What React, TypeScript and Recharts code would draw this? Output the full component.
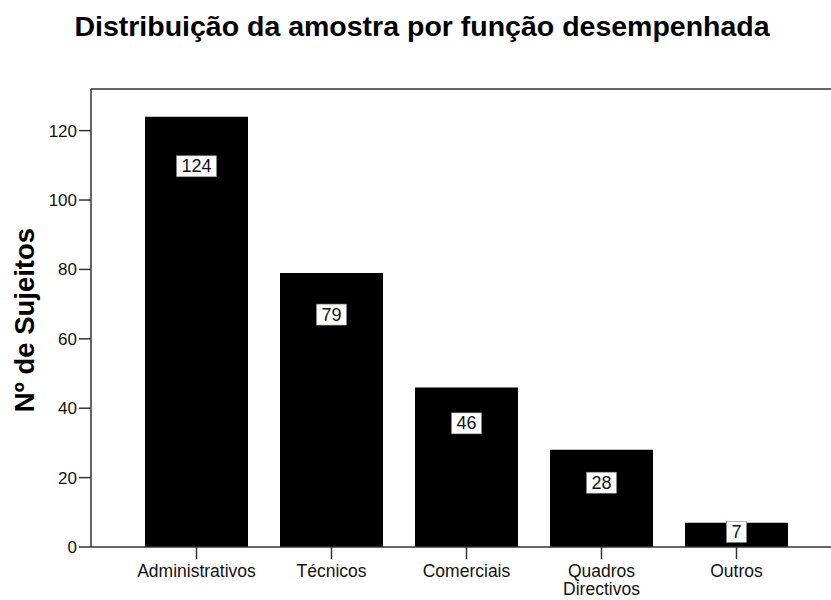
import { Bar, BarChart, Label, LabelList, ReferenceLine, XAxis, YAxis } from "recharts";

const categories = ["Administrativos", "Técnicos", "Comerciais", "Quadros Directivos", "Outros"];
const counts = [124, 79, 46, 28, 7];
const yTicks = [0, 20, 40, 60, 80, 100, 120];
const yMax = 132;

const data = categories.map((category, i) => ({ category, count: counts[i] }));

const FONT = "'Liberation Sans', Arial, sans-serif";
const AXIS = "#333";

function CategoryTick(props: any) {
  const { x, y, payload } = props;
  const value = String(payload.value);
  const words = value.split(" ");
  // long two-word names go on two lines, like SPSS does
  const lines = words.length > 1 && value.length > 12 ? words : [value];
  return (
    <g>
      {lines.map((line, i) => (
        <text key={line} x={x} y={y + 13 + i * 18} textAnchor="middle" fontSize={17.5} fill="#111" fontFamily={FONT}>
          {line}
        </text>
      ))}
    </g>
  );
}

function ValueBox(props: any) {
  const x = Number(props.x);
  const y = Number(props.y);
  const width = Number(props.width);
  const height = Number(props.height);
  const text = String(props.value);
  const cx = x + width / 2;
  // SPSS puts the count just under the top of the bar
  const cy = y + Math.min(28 + 0.05 * height, height / 2 - 3);
  const w = text.length * 10 + 10;
  const h = 21;
  return (
    <g>
      <rect x={cx - w / 2} y={cy - h / 2} width={w} height={h} fill="#fff" stroke="#888" strokeWidth={0.6} />
      <text x={cx} y={cy} textAnchor="middle" dominantBaseline="central" fontSize={18} fill="#111" fontFamily={FONT}>
        {text}
      </text>
    </g>
  );
}

function YTitle(props: any) {
  const vb = props.viewBox || {};
  const cy = vb.y + vb.height / 2 + 2;
  return (
    <text
      x={24}
      y={cy}
      transform={`rotate(-90, 24, ${cy})`}
      textAnchor="middle"
      dominantBaseline="central"
      fontSize={27.5}
      fontWeight="bold"
      fill="#000"
      fontFamily={FONT}
    >
      Nº de Sujeitos
    </text>
  );
}

export default function App() {
  return (
    <div style={{ position: "absolute", top: 0, left: 0, width: 831, height: 600, background: "#fff", fontFamily: FONT }}>
      <div
        style={{
          position: "absolute",
          top: 12,
          left: 0,
          width: 844,
          textAlign: "center",
          fontSize: 28.5,
          lineHeight: "28px",
          fontWeight: "bold",
          color: "#000",
        }}
      >
        Distribuição da amostra por função desempenhada
      </div>
      <BarChart width={831} height={600} data={data} margin={{ top: 89, right: 0, bottom: 0, left: 0 }}>
        <XAxis
          dataKey="category"
          height={53}
          padding={{ left: 38, right: 27 }}
          tick={<CategoryTick />}
          tickSize={12}
          tickMargin={5}
          interval={0}
          stroke={AXIS}
          strokeWidth={1.5}
        />
        <YAxis
          width={91}
          domain={[0, yMax]}
          ticks={yTicks}
          tickSize={12}
          tickMargin={2}
          tick={{ fontSize: 17, fill: "#111", fontFamily: FONT }}
          stroke={AXIS}
          strokeWidth={1.5}
        >
          <Label content={<YTitle />} />
        </YAxis>
        <ReferenceLine y={yMax} stroke={AXIS} strokeWidth={1.5} />
        <Bar dataKey="count" fill="#000" barSize={103} isAnimationActive={false}>
          <LabelList dataKey="count" content={<ValueBox />} />
        </Bar>
      </BarChart>
    </div>
  );
}
